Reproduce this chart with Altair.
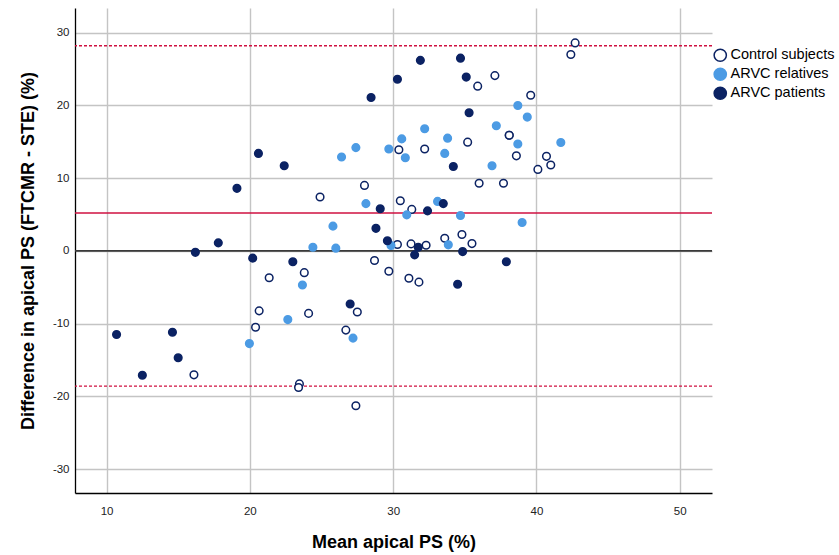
import altair as alt
import pandas as pd

# ---- data ----
groups = ["Control subjects", "ARVC relatives", "ARVC patients"]

control_x = [42.7, 42.4, 37.1, 35.9, 39.6, 38.1, 38.1, 35.2, 32.2, 30.4, 38.6, 40.7, 41.0, 40.1,
             36.0, 37.7, 28.0, 24.9, 30.5, 31.3, 33.6, 34.8, 35.5, 30.3, 31.25, 32.3, 28.7, 29.7,
             31.1, 31.8, 23.8, 21.35, 20.65, 20.4, 24.1, 27.5, 26.7, 16.1, 23.46, 23.4, 27.4]
control_y = [28.6, 27.0, 24.1, 22.65, 21.4, 15.9, 15.9, 14.95, 14.0, 13.9, 13.07, 13.0, 11.8, 11.2,
             9.3, 9.3, 9.0, 7.4, 6.9, 5.7, 1.74, 2.25, 1.0, 0.87, 0.96, 0.78, -1.33, -2.8,
             -3.76, -4.3, -3.0, -3.7, -8.25, -10.5, -8.6, -8.4, -10.9, -17.05, -18.3, -18.8, -21.3]

relatives_x = [38.7, 39.36, 37.2, 32.2, 30.6, 33.8, 27.4, 29.7, 38.7, 41.7, 33.6, 26.4, 30.85, 36.9,
               28.1, 33.1, 30.95, 34.7, 39.0, 25.8, 24.4, 26.0, 29.85, 33.85, 23.67, 22.65, 19.97, 27.2]
relatives_y = [20.0, 18.4, 17.2, 16.8, 15.4, 15.5, 14.2, 14.0, 14.7, 14.9, 13.4, 12.9, 12.8, 11.7,
               6.5, 6.8, 4.95, 4.86, 3.9, 3.4, 0.5, 0.37, 0.73, 0.83, -4.7, -9.45, -12.75, -12.0]

patients_x = [31.9, 34.7, 30.3, 35.1, 28.46, 35.3, 20.6, 22.4, 34.2, 19.1, 29.1, 32.4, 33.5, 28.8,
              29.6, 17.8, 16.2, 31.75, 31.5, 34.85, 20.2, 23.0, 37.9, 34.5, 27.0, 10.7, 14.6, 15.0, 12.5]
patients_y = [26.2, 26.5, 23.6, 23.9, 21.1, 19.0, 13.4, 11.7, 11.6, 8.6, 5.8, 5.5, 6.5, 3.1,
              1.4, 1.1, -0.2, 0.5, -0.55, -0.1, -1.0, -1.5, -1.5, -4.6, -7.3, -11.5, -11.2, -14.7, -17.1]

mean_diff = 5.2
upper_loa = 28.2
lower_loa = -18.6

x_ticks = [10, 20, 30, 40, 50]
y_ticks = [-30, -20, -10, 0, 10, 20, 30]

# ---- build table ----
rows = []
for g, xs, ys in [(groups[0], control_x, control_y),
                  (groups[1], relatives_x, relatives_y),
                  (groups[2], patients_x, patients_y)]:
    for xv, yv in zip(xs, ys):
        rows.append({"mean": xv, "diff": yv, "group": g})
df = pd.DataFrame(rows)

navy = "#0b2263"
light = "#4c9be4"
red = "#cf1040"

xscale = alt.Scale(domain=[7.8, 52.25], nice=False, zero=False)
yscale = alt.Scale(domain=[-33.3, 33.4], nice=False, zero=False)

legend_cfg = dict(title=None, orient="none", legendX=638, legendY=40,
                  symbolSize=150, symbolStrokeWidth=1.5, labelFontSize=14.5,
                  labelFont="Liberation Sans", labelColor="#000000",
                  rowPadding=0, labelOffset=3, symbolType="circle")

points = alt.Chart(df).mark_point(shape="circle", size=58, strokeWidth=1.5, opacity=1, filled=False).encode(
    x=alt.X("mean:Q", scale=xscale,
            axis=alt.Axis(title="Mean apical PS (%)", values=x_ticks,
                          grid=True, ticks=False, labelPadding=12, titlePadding=17,
                          labelExpr="'' + datum.value")),
    y=alt.Y("diff:Q", scale=yscale,
            axis=alt.Axis(title="Difference in apical PS (FTCMR - STE) (%)",
                          values=y_ticks,
                          grid=True, ticks=False, labelPadding=6, titlePadding=15,
                          labelExpr="'' + datum.value")),
    fill=alt.Fill("group:N", scale=alt.Scale(domain=groups, range=["#ffffff", light, navy]),
                  legend=alt.Legend(**legend_cfg)),
    stroke=alt.Stroke("group:N", scale=alt.Scale(domain=groups, range=[navy, light, navy]),
                      legend=alt.Legend(**legend_cfg)),
    order=alt.Order("ord:Q"),
).transform_calculate(
    ord="datum.group == 'Control subjects' ? 0 : (datum.group == 'ARVC relatives' ? 1 : 2)"
)

lines_df = pd.DataFrame({
    "y": [0.0, mean_diff, upper_loa, lower_loa],
    "kind": ["zero", "mean", "upper", "lower"],
})

zero_rule = alt.Chart(lines_df[lines_df.kind == "zero"]).mark_rule(color="#3a3a3a", strokeWidth=1.6).encode(
    y=alt.Y("y:Q", scale=yscale))
mean_rule = alt.Chart(lines_df[lines_df.kind == "mean"]).mark_rule(color=red, strokeWidth=1.4).encode(
    y=alt.Y("y:Q", scale=yscale))
loa_rule = alt.Chart(lines_df[lines_df.kind.isin(["upper", "lower"])]).mark_rule(
    color=red, strokeWidth=1.4, strokeDash=[3, 2]).encode(
    y=alt.Y("y:Q", scale=yscale))

chart = alt.layer(zero_rule, mean_rule, loa_rule, points).properties(
    width=637, height=485,
    autosize=alt.AutoSizeParams(type="none"),
    padding={"left": 75, "top": 8, "right": 127, "bottom": 62},
    background="#ffffff",
).configure_view(
    stroke=None
).configure_axis(
    gridColor="#c4c4c4", gridWidth=1.4, domainColor="#000000", domainWidth=1.3,
    labelFont="Liberation Sans", labelFontSize=11.5, labelColor="#222222",
    titleFont="Liberation Sans", titleFontSize=18, titleFontWeight="bold", titleColor="#000000",
)

chart.save("out.html", embed_options={"renderer": "svg", "actions": False})
